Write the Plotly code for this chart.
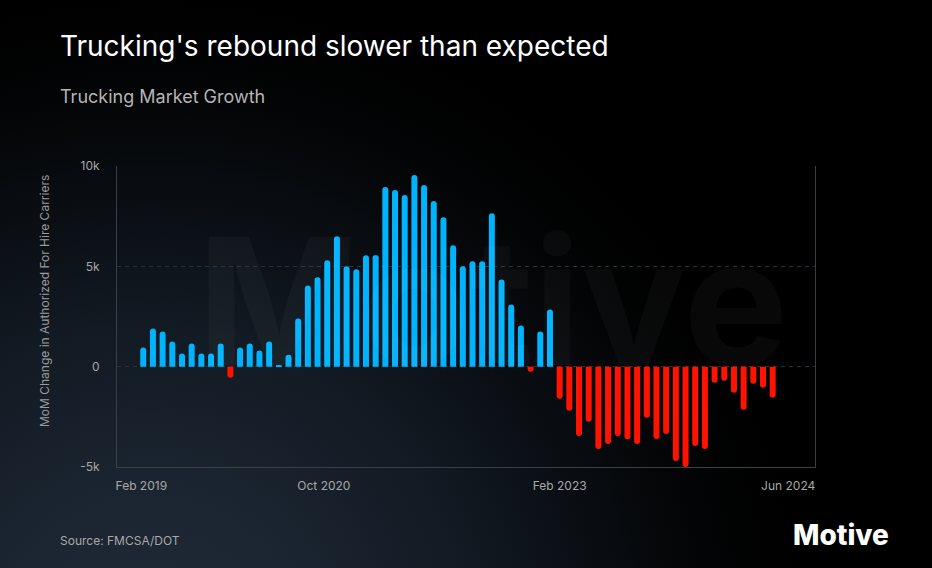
import plotly.graph_objects as go
import pandas as pd
import base64

# ---- data ----
values = [950, 1900, 1750, 1250, 650, 1150, 650, 650, 1150,
          -550,
          950, 1150, 800, 1250, 60, 600,
          2400, 4050, 4450, 5300, 6500, 5000, 4850, 5550, 5550,
          8950, 8800, 8550, 9550, 9050, 8250, 7450, 6050, 5000,
          5250, 5250, 7650, 4350, 3100, 2050,
          -250,
          1750, 2850,
          -1600, -2200, -3450, -2750, -4100, -3850, -3450, -3600, -3850,
          -2550, -3600, -3350, -4700, -5000, -3950, -4100, -800, -700,
          -1300, -2150, -850, -1050, -1550]
months = list(pd.date_range("2019-02-01", periods=len(values), freq="MS").strftime("%b %Y"))
x_tick_labels = ["Feb 2019", "Oct 2020", "Feb 2023", "Jun 2024"]
y_tick_values = [-5000, 0, 5000, 10000]
y_tick_labels = ["-5k", "0", "5k", "10k"]

POS = "#00b3ff"
NEG = "#ff1300"
colors = [POS if v >= 0 else NEG for v in values]

FONT = "Inter"
W, H = 932, 568
ML, MR, MT, MB = 117, 117, 166, 101
PW, PH = W - ML - MR, H - MT - MB


def px(xp):
    return (xp - ML) / PW


def py(yp):
    return 1 - (yp - MT) / PH


svg = (
    '<svg xmlns="http://www.w3.org/2000/svg" width="932" height="568">'
    '<defs><radialGradient id="g" cx="150" cy="650" r="700" gradientUnits="userSpaceOnUse">'
    '<stop offset="0" stop-color="#202b38"/>'
    '<stop offset="0.23" stop-color="#1b2531"/>'
    '<stop offset="0.46" stop-color="#121a23"/>'
    '<stop offset="0.64" stop-color="#0a0e13"/>'
    '<stop offset="0.8" stop-color="#030405"/>'
    '<stop offset="0.93" stop-color="#000000"/>'
    '</radialGradient></defs>'
    '<rect width="932" height="568" fill="url(#g)"/></svg>'
)
bg_uri = "data:image/svg+xml;base64," + base64.b64encode(svg.encode()).decode()

fig = go.Figure()
fig.add_trace(go.Bar(
    x=list(range(len(values))),
    y=values,
    marker=dict(color=colors, line=dict(width=0), cornerradius=3),
    hovertext=months,
    showlegend=False,
))

fig.update_layout(
    width=W, height=H,
    margin=dict(l=ML, r=MR, t=MT, b=MB),
    paper_bgcolor="#000000",
    plot_bgcolor="rgba(0,0,0,0)",
    bargap=0.38,
    font=dict(family=FONT, color="#a8a8a8", size=12),
    images=[dict(source=bg_uri, xref="paper", yref="paper",
                 x=-ML / PW, y=1 + MT / PH, sizex=W / PW, sizey=H / PH,
                 xanchor="left", yanchor="top", sizing="stretch", layer="below")],
    xaxis=dict(
        range=[-2.71, 69.37],
        tickmode="array",
        tickvals=[-0.2, 18.65, 43.0, 66.6],
        ticktext=x_tick_labels,
        showgrid=False, zeroline=False,
        showline=True, linecolor="#3a3f45", linewidth=1,
        ticks="", ticklabelstandoff=8,
        tickfont=dict(size=12, color="#a8a8a8", family=FONT),
    ),
    yaxis=dict(
        range=[-5000, 10000],
        tickmode="array",
        tickvals=y_tick_values,
        ticktext=y_tick_labels,
        showgrid=True, gridcolor="#2a3139", griddash="4px,4px", gridwidth=1,
        zeroline=False,
        showline=True, mirror=True, linecolor="#3a3f45", linewidth=1,
        ticks="", ticklabelstandoff=14,
        tickfont=dict(size=12, color="#a8a8a8", family=FONT),
    ),
    annotations=[
        dict(text="Motive", xref="paper", yref="paper",
             x=px(492), y=py(300), xanchor="center", yanchor="middle", showarrow=False,
             font=dict(size=176, color="rgba(255,255,255,0.03)", family=FONT, weight=700)),
        dict(text="MoM Change in Authorized For Hire Carriers", xref="paper", yref="paper",
             x=px(44), y=py(301), xanchor="center", yanchor="middle", textangle=-90,
             showarrow=False, font=dict(size=12, color="#9a9a9a", family=FONT)),
        dict(text="Trucking's rebound slower than expected", xref="paper", yref="paper",
             x=px(58), y=py(46), xanchor="left", yanchor="middle",
             showarrow=False, font=dict(size=28, color="#ffffff", family=FONT)),
        dict(text="Trucking Market Growth", xref="paper", yref="paper",
             x=px(58), y=py(96), xanchor="left", yanchor="middle",
             showarrow=False, font=dict(size=18, color="#b4b4b4", family=FONT)),
        dict(text="Source: FMCSA/DOT", xref="paper", yref="paper",
             x=px(58), y=py(540), xanchor="left", yanchor="middle",
             showarrow=False, font=dict(size=12, color="#a8a8a8", family=FONT)),
        dict(text="Motive", xref="paper", yref="paper",
             x=px(891), y=py(535), xanchor="right", yanchor="middle",
             showarrow=False, font=dict(size=28, color="#ffffff", family=FONT, weight=800)),
    ],
)

fig.write_html("out.html", config={"displayModeBar": False},
               post_script="document.body.style.margin='0';document.body.style.background='#000';")
